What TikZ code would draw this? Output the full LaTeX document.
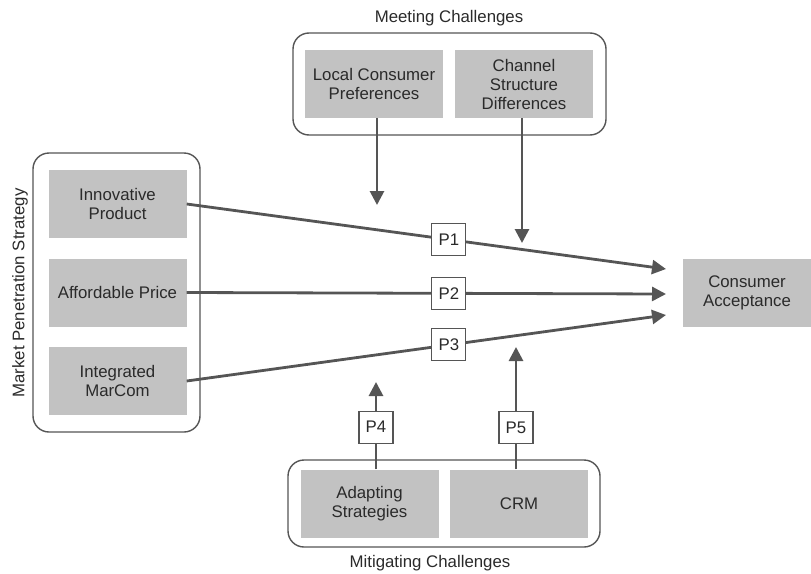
\documentclass[tikz,border=0pt]{standalone}
\usepackage{fontspec}
\setmainfont{Liberation Sans}
\usetikzlibrary{arrows.meta}

\definecolor{boxgray}{HTML}{C2C2C2}
\definecolor{linegray}{HTML}{555555}
\definecolor{textgray}{HTML}{2A2A2A}

\begin{document}
\begin{tikzpicture}[x=1pt, y=-1pt, font=\fontsize{16.8}{19}\selectfont, text=textgray]
        % Setup the styles for the boxes and arrows
        \tikzset{box style/.style={fill=boxgray,
                                   minimum width=138pt,
                                   minimum height=68pt,
                                   inner sep=0pt,
                                   align=center},
                 group style/.style={draw=linegray,
                                     line width=1.4pt,
                                     rounded corners=16pt,
                                     inner sep=0pt},
                 p style/.style={draw=linegray,
                                 line width=1.1pt,
                                 fill=white,
                                 minimum width=34pt,
                                 minimum height=32pt,
                                 inner sep=0pt},
                 link style/.style={line width=2.8pt,
                                    draw=linegray,
                                    -{Triangle[length=14pt,width=14pt]}}}
        \useasboundingbox (0,0) rectangle (811,573);

        % Draw the groups
        \node[group style, minimum width=313pt, minimum height=102pt] at (449.5,84) (meet) {};
        \node[group style, minimum width=167pt, minimum height=279pt] at (116.5,292.5) (market) {};
        \node[group style, minimum width=312pt, minimum height=87pt] at (444,503.5) (mitig) {};
        \node at (449,18) (meetlabel) {Meeting Challenges};
        \node at (430,563) (mitiglabel) {Mitigating Challenges};
        \node[rotate=90] at (20,293) (marketlabel) {Market Penetration Strategy};

        % Draw the boxes
        \node[box style] at (374,84) (local) {Local Consumer\\Preferences};
        \node[box style] at (524,84) (channel) {Channel\\Structure\\Differences};
        \node[box style] at (117.5,204) (innov) {Innovative\\Product};
        \node[box style] at (117.5,292.5) (price) {Affordable Price};
        \node[box style] at (117.5,381) (marcom) {Integrated\\MarCom};
        \node[box style] at (369.5,503.5) (adapt) {Adapting\\Strategies};
        \node[box style] at (519,503.5) (crm) {CRM};
        \node[box style, minimum width=128pt] at (747,292.5) (accept) {Consumer\\Acceptance};

        % Arrow ends
        \coordinate (tip1) at (666,269);
        \coordinate (tip2) at (666,294);
        \coordinate (tip3) at (666,315);
        \coordinate (meet1) at (377,205);
        \coordinate (meet2) at (522,243);
        \coordinate (mitig1) at (376,382);
        \coordinate (mitig2) at (516,347);

        % Connect the boxes with arrows
        \draw[link style] (innov.east) -- node[p style, pos=0.547] (p1) {P1} (tip1);
        \draw[link style] (price.east) -- node[p style, pos=0.547] (p2) {P2} (tip2);
        \draw[link style] (marcom.east) -- node[p style, pos=0.547] (p3) {P3} (tip3);
        \draw[link style] (meet1 |- local.south) -- (meet1);
        \draw[link style] (meet2 |- channel.south) -- (meet2);
        \draw[link style] (mitig1 |- adapt.north) -- node[p style, pos=0.483] (p4) {P4} (mitig1);
        \draw[link style] (mitig2 |- crm.north) -- node[p style, pos=0.34] (p5) {P5} (mitig2);
\end{tikzpicture}
\end{document}
